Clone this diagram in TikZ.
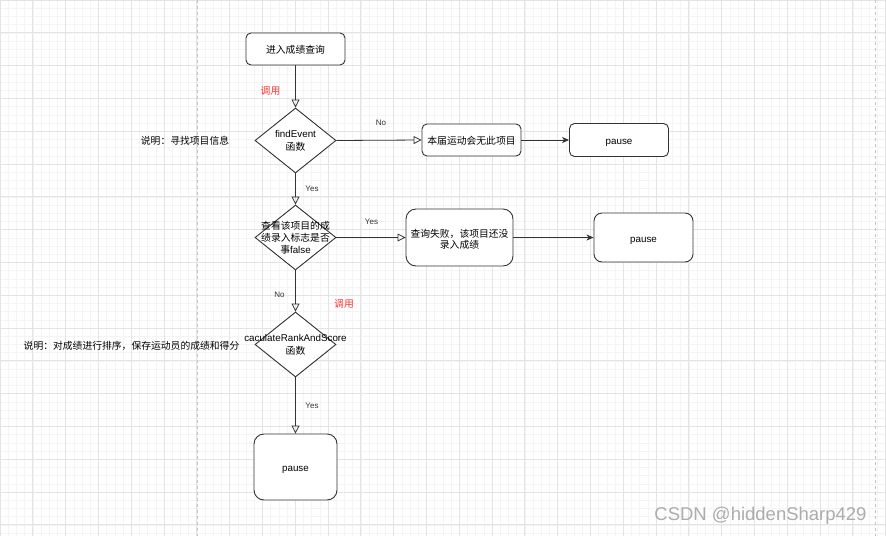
\documentclass[tikz,border=0pt]{standalone}
\usepackage{fontspec}
\setmainfont{Liberation Sans}
\newfontfamily\cjk{Noto Sans CJK SC}
\usetikzlibrary{shapes.geometric,arrows.meta}
\definecolor{ln}{HTML}{333333}
\definecolor{redlbl}{HTML}{FF3333}
\definecolor{gmin}{HTML}{F4F4F4}
\definecolor{gmaj}{HTML}{E4E4E4}
\definecolor{pagel}{HTML}{C4C4C4}
\definecolor{wm}{HTML}{ACACAC}
\tikzset{
  txt/.style={font=\fontsize{9.8}{13}\selectfont, text=black, inner sep=0pt, align=center},
  box/.style={draw=ln, line width=0.9pt, rectangle, rounded corners=#1, inner sep=0pt, fill=white},
  box/.default=5pt,
  dia/.style={draw=ln, line width=0.9pt, diamond, inner sep=0pt, fill=white, minimum width=81pt, minimum height=65pt},
  lbl/.style={font=\fontsize{8}{9}\selectfont, text=ln, inner sep=0pt},
  redl/.style={font=\cjk\fontsize{9.8}{11}\selectfont, text=redlbl, inner sep=0pt},
  note/.style={font=\cjk\fontsize{9.8}{11}\selectfont, text=black, inner sep=0pt},
  openarr/.style={draw=ln, line width=0.8pt, -{Triangle[open,length=8pt,width=8pt]}},
  fillarr/.style={draw=ln, line width=0.8pt, -{Stealth[length=7pt,width=6pt,inset=2pt]}},
}
\begin{document}
\begin{tikzpicture}[x=1pt,y=-1pt]
\useasboundingbox (0,0) rectangle (886,536);
\fill[white] (0,0) rectangle (886,536);
% grid
\foreach \i in {0,...,108} { \draw[gmin, line width=0.5pt] (\i*8.2,0) -- (\i*8.2,536); }
\foreach \j in {0,...,65} { \draw[gmin, line width=0.5pt] (0,\j*8.2) -- (886,\j*8.2); }
\foreach \i in {0,...,27} { \draw[gmaj, line width=0.8pt] (\i*32.8,0) -- (\i*32.8,536); }
\foreach \j in {0,...,16} { \draw[gmaj, line width=0.8pt] (0,\j*32.8) -- (886,\j*32.8); }
\draw[pagel, line width=0.9pt, dash pattern=on 3pt off 3pt] (197,0) -- (197,536);
\draw[pagel, line width=0.9pt, dash pattern=on 3pt off 3pt] (875,0) -- (875,536);

% nodes
\node[box=5pt, minimum width=99pt, minimum height=32pt, label={[txt,yshift=-1pt]center:{\cjk 进入成绩查询}}] (start) at (295.5,49) {};
\node[dia] (d1) at (295.5,140.5) {};
\node[txt] (d1t) at (295.5,141) {findEvent\\{\cjk 函数}};
\node[box=5pt, minimum width=99pt, minimum height=32pt, label={[txt,yshift=-1pt]center:{\cjk 本届运动会无此项目}}] (norec) at (471.5,140) {};
\node[box=5pt, minimum width=99pt, minimum height=33pt, label={[txt,yshift=-3pt]center:pause}] (p1) at (619,140) {};
\node[dia] (d2) at (295.5,237.5) {};
\node[txt, font=\fontsize{9.8}{12.3}\selectfont] (d2t) at (295.5,237.8) {{\cjk 查看该项目的成}\\{\cjk 绩录入标志是否}\\{\cjk 事}false};
\node[box=10pt, minimum width=107pt, minimum height=57pt, label={[txt,yshift=-2pt]center:{{\cjk 查询失败，该项目还没}\\[-2pt]{\cjk 录入成绩}}}] (fail) at (459.5,237.5) {};
\node[box=8pt, minimum width=99pt, minimum height=49pt, label={[txt,yshift=-3pt]center:pause}] (p2) at (643.5,237.5) {};
\node[dia] (d3) at (295.5,344.5) {};
\node[txt] (d3t) at (295.5,345) {caculateRankAndScore\\{\cjk 函数}};
\node[box=10pt, minimum width=83pt, minimum height=66pt, label={[txt,yshift=-3pt]center:pause}] (p3) at (295.5,467) {};

% notes
\node[note] (n1) at (185,140.5) {说明：寻找项目信息};
\node[note] (n2) at (131.5,346) {说明：对成绩进行排序，保存运动员的成绩和得分};

% connectors
\draw[openarr] (start.south) -- (d1.north);
\draw[openarr] (d1.east) -- (norec.west);
\draw[fillarr] (norec.east) -- (p1.west);
\draw[openarr] (d1.south) -- (d2.north);
\draw[openarr] (d2.east) -- (fail.west);
\draw[fillarr] (fail.east) -- (p2.west);
\draw[openarr] (d2.south) -- (d3.north);
\draw[openarr] (d3.south) -- (p3.north);

% connector labels
\node[redl] (c1) at (270.5,91) {调用};
\node[lbl] (l1) at (381,123) {No};
\node[lbl] (l2) at (312,188.5) {Yes};
\node[lbl] (l3) at (371.5,221.5) {Yes};
\node[lbl] (l4) at (279.5,295) {No};
\node[redl] (c2) at (344,304) {调用};
\node[lbl] (l5) at (312,405.5) {Yes};

% watermark
\node[font=\fontsize{18.5}{20}\selectfont, text=wm, inner sep=0pt] (wmk) at (760.5,516) {CSDN @hiddenSharp429};
\end{tikzpicture}
\end{document}
